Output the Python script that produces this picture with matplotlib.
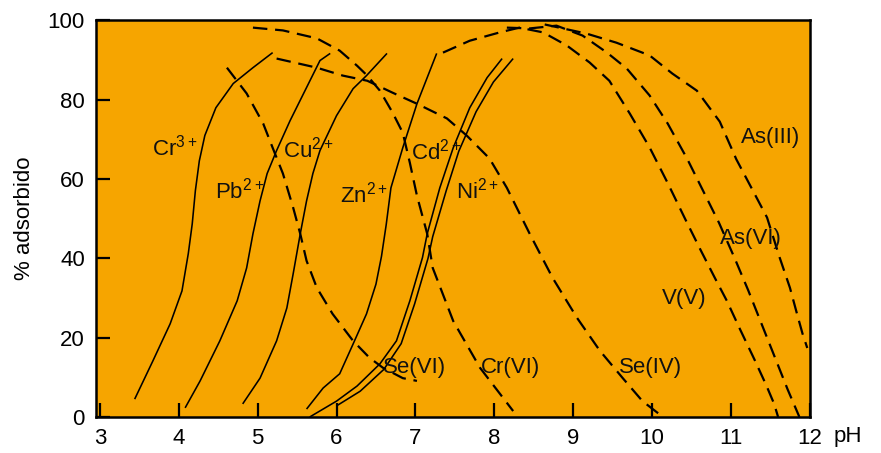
import matplotlib
matplotlib.use("Agg")
import matplotlib.pyplot as plt

plt.rcParams['font.family'] = ['Liberation Sans', 'DejaVu Sans']
plt.rcParams['mathtext.default'] = 'regular'

# ---------------- data ----------------
# cations (solid lines): pH, % adsorbed
cr3_x = [3.44, 3.67, 3.89, 4.04, 4.12, 4.17, 4.21, 4.26, 4.33, 4.47, 4.69, 4.94, 5.19]
cr3_y = [4.5, 14.1, 23.5, 31.8, 41.2, 48.7, 57.1, 64.6, 71.0, 78.0, 84.1, 88.1, 91.9]

pb2_x = [4.08, 4.27, 4.52, 4.74, 4.86, 4.94, 5.03, 5.12, 5.24, 5.41, 5.62, 5.79, 5.92]
pb2_y = [2.3, 9.1, 19.2, 29.3, 37.6, 46.2, 54.5, 61.4, 67.2, 74.7, 83.1, 89.9, 91.7]

cu2_x = [4.81, 5.03, 5.24, 5.37, 5.45, 5.54, 5.62, 5.70, 5.79, 6.00, 6.21, 6.38, 6.64]
cu2_y = [3.3, 9.8, 19.2, 27.5, 36.1, 46.2, 54.5, 61.4, 67.2, 76.0, 82.8, 86.1, 91.7]

zn2_x = [5.62, 5.83, 6.04, 6.21, 6.38, 6.50, 6.57, 6.63, 6.69, 6.84, 7.02, 7.27]
zn2_y = [2.0, 7.3, 10.9, 18.4, 26.0, 33.5, 40.5, 48.5, 57.8, 67.9, 79.0, 91.7]

cd2_x = [5.66, 6.00, 6.26, 6.55, 6.76, 6.93, 7.09, 7.15, 7.31, 7.48, 7.69, 7.91, 8.10]
cd2_y = [0.0, 4.0, 7.8, 13.4, 19.2, 29.3, 40.2, 46.2, 57.8, 67.9, 78.0, 85.6, 90.4]

ni2_x = [6.00, 6.30, 6.60, 6.82, 6.99, 7.16, 7.22, 7.39, 7.55, 7.77, 7.99, 8.24]
ni2_y = [2.8, 6.5, 12.0, 18.5, 28.5, 40.0, 45.5, 57.0, 67.0, 77.0, 84.5, 90.4]

# anions (dashed lines)
se6_x = [4.61, 4.86, 5.07, 5.19, 5.32, 5.45, 5.54, 5.62, 5.75, 5.95, 6.21, 6.42, 6.59, 6.84, 7.02]
se6_y = [88.1, 81.6, 74.0, 67.9, 61.4, 52.8, 46.2, 39.4, 32.6, 26.0, 19.2, 14.9, 12.4, 9.8, 9.1]

cr6_x = [4.94, 5.32, 5.75, 6.04, 6.26, 6.39, 6.55, 6.71, 6.84, 6.93, 7.02, 7.15, 7.22, 7.48, 7.82, 8.24]
cr6_y = [98.2, 97.5, 95.5, 92.4, 88.6, 86.1, 82.3, 76.8, 71.7, 64.1, 55.8, 46.2, 37.6, 24.2, 12.4, 1.5]

se4_x = [5.24, 5.75, 6.08, 6.39, 6.71, 7.02, 7.40, 7.65, 7.94, 8.16, 8.45, 8.74, 9.05, 9.34, 9.63, 9.88, 10.14]
se4_y = [90.4, 88.1, 86.1, 84.8, 81.8, 79.0, 75.3, 71.0, 65.2, 57.8, 46.2, 35.1, 25.0, 16.7, 9.8, 4.0, 0.0]

v5_x = [7.35, 7.69, 8.07, 8.32, 8.62, 8.92, 9.21, 9.46, 9.72, 9.97, 10.20, 10.42, 10.62, 10.80, 10.95, 11.12, 11.30, 11.45, 11.55, 11.60]
v5_y = [91.9, 94.9, 97.0, 98.2, 97.0, 93.7, 89.4, 84.8, 76.5, 68.0, 59.0, 50.0, 42.0, 35.0, 29.3, 22.0, 14.5, 8.0, 3.3, 0.0]

as5_x = [8.16, 8.45, 8.79, 9.12, 9.43, 9.68, 9.97, 10.20, 10.45, 10.65, 10.85, 11.05, 11.22, 11.38, 11.55, 11.72, 11.87]
as5_y = [98.2, 98.0, 98.7, 96.2, 91.9, 87.9, 81.1, 74.0, 65.0, 57.0, 49.0, 40.0, 32.0, 24.0, 15.5, 7.0, 0.0]

as3_x = [8.64, 9.17, 9.55, 9.97, 10.26, 10.57, 10.86, 11.07, 11.28, 11.46, 11.62, 11.75, 11.84, 11.91, 11.97]
as3_y = [99.0, 96.7, 94.4, 91.2, 86.6, 82.3, 74.5, 65.0, 57.1, 50.3, 40.2, 32.6, 26.0, 21.0, 17.4]

# labels: text, x, y, horizontal alignment
lab_text = ['Cr$^{3+}$', 'Pb$^{2+}$', 'Cu$^{2+}$', 'Zn$^{2+}$', 'Cd$^{2+}$', 'Ni$^{2+}$',
            'Se(VI)', 'Cr(VI)', 'Se(IV)', 'V(V)', 'As(VI)', 'As(III)']
lab_x = [4.24, 5.08, 5.32, 6.66, 6.95, 7.52, 6.59, 7.83, 9.58, 10.13, 10.86, 11.13]
lab_y = [68.0, 57.0, 67.5, 56.0, 67.0, 57.0, 12.5, 12.5, 12.5, 30.0, 45.0, 70.5]
lab_ha = ['right', 'right', 'left', 'right', 'left', 'left',
          'left', 'left', 'left', 'left', 'left', 'left']

x_ticks = [3, 4, 5, 6, 7, 8, 9, 10, 11, 12]
y_ticks = [0, 20, 40, 60, 80, 100]

# ---------------- drawing ----------------
ORANGE = '#F6A500'
FS = 16
fig = plt.figure(figsize=(8.81, 4.53), dpi=100)
ax = fig.add_axes([0.109, 0.0795, 0.81, 0.877])
ax.set_facecolor(ORANGE)

solid = [(cr3_x, cr3_y), (pb2_x, pb2_y), (cu2_x, cu2_y), (zn2_x, zn2_y),
         (cd2_x, cd2_y), (ni2_x, ni2_y)]
dashed = [(se6_x, se6_y), (cr6_x, cr6_y), (se4_x, se4_y), (v5_x, v5_y),
          (as5_x, as5_y), (as3_x, as3_y)]

for xs, ys in solid:
    ax.plot(xs, ys, color='black', lw=1.15, solid_capstyle='butt', solid_joinstyle='round')
for xs, ys in dashed:
    ax.plot(xs, ys, color='black', lw=1.6, dashes=(6.5, 3.5), dash_capstyle='butt')

for t, x, y, ha in zip(lab_text, lab_x, lab_y, lab_ha):
    ax.text(x, y, t, ha=ha, va='center', fontsize=FS, color='#111111')

ax.set_xlim(2.95, 12.0)
ax.set_ylim(0, 100.2)
ax.set_xticks(x_ticks)
ax.set_yticks(y_ticks)
ax.tick_params(axis='both', direction='in', length=10, width=1.6, labelsize=FS, pad=8)
for s in ax.spines.values():
    s.set_linewidth(1.8)
ax.set_ylabel('% adsorbido', fontsize=FS, labelpad=9)
ax.text(1.033, -0.05, 'pH', transform=ax.transAxes, ha='left', va='center', fontsize=FS)

fig.savefig('out.png', dpi=100)
